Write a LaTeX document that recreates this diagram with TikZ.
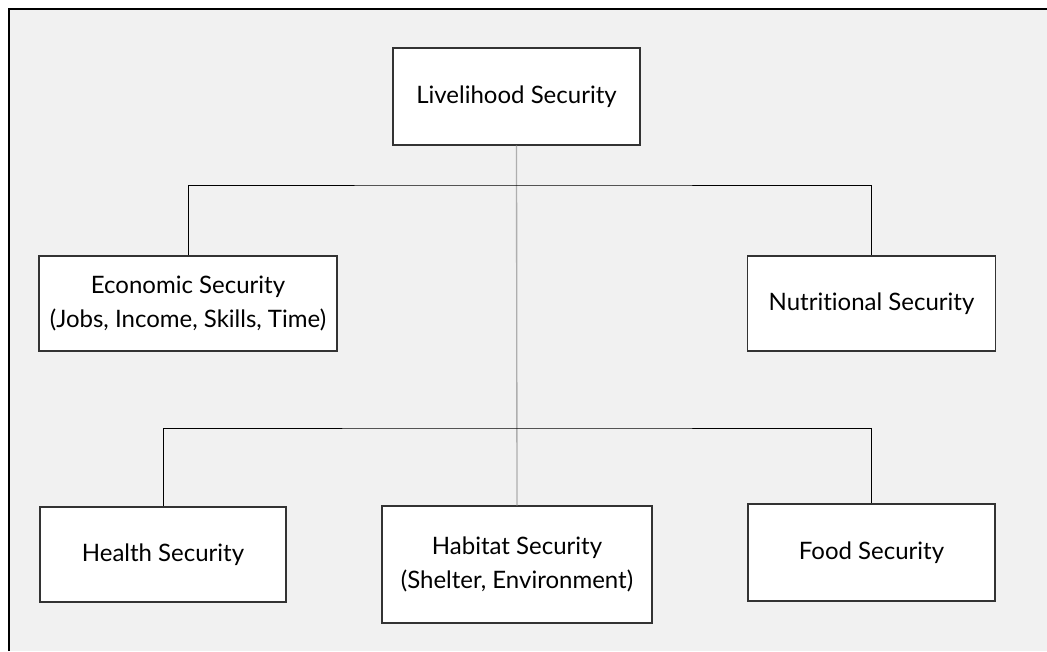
\documentclass[tikz,border=0pt]{standalone}
\usepackage{fontspec}
\setmainfont[Ligatures=NoCommon]{Lato}
\usepackage{xcolor}
\usetikzlibrary{calc}
\usetikzlibrary{positioning}

\definecolor{panelgray}{HTML}{F1F1F1}
\definecolor{boxline}{HTML}{333333}
\definecolor{trunkgray}{HTML}{AEAEAE}

\tikzset{
	secbox/.style={draw=boxline,line width=1.1pt,fill=white,align=center,inner sep=0pt,
		font=\fontsize{18}{26}\selectfont},
	link/.style={line width=0.6pt,black},
	trunk/.style={line width=1pt,trunkgray}
}

\begin{document}
\begin{tikzpicture}[x=0.75pt,y=-0.75pt]
	  	\useasboundingbox (0,0) rectangle (1047,651);
	  	% panel with the frame on its top and left edges
	  	\fill[panelgray] (9,9) rectangle (1047,651);
	  	\draw[line width=1.6pt,black] (9,651) -- (9,9) -- (1047,9);
	  	% boxes
	  	\node[secbox,minimum width=247*0.75pt,minimum height=97*0.75pt] (live) at (516.5,96.5) {Livelihood Security};
	  	\node[secbox,minimum width=298*0.75pt,minimum height=95*0.75pt] (econ) at (188,303.5) {Economic Security\\(Jobs, Income, Skills, Time)};
	  	\node[secbox,minimum width=248*0.75pt,minimum height=95*0.75pt] (nutri) at (871.5,303.5) {Nutritional Security};
	  	\node[secbox,minimum width=246*0.75pt,minimum height=95*0.75pt] (health) at (163,554.5) {Health Security};
	  	\node[secbox,minimum width=270*0.75pt,minimum height=117*0.75pt] (habitat) at (517,564.5) {Habitat Security\\(Shelter, Environment)};
	  	\node[secbox,minimum width=247*0.75pt,minimum height=97*0.75pt] (food) at (871.5,552.5) {Food Security};
	  	% branch points
	  	\coordinate (upper split) at (517,185);
	  	\coordinate (lower split) at (517,428);
	  	% connectors
	  	\draw[trunk] (live.south) -- (habitat.north);
	  	\draw[link] (econ.north) |- (upper split) -| (nutri.north);
	  	\draw[link] (health.north) |- (lower split) -| (food.north);
	  \end{tikzpicture}
\end{document}
